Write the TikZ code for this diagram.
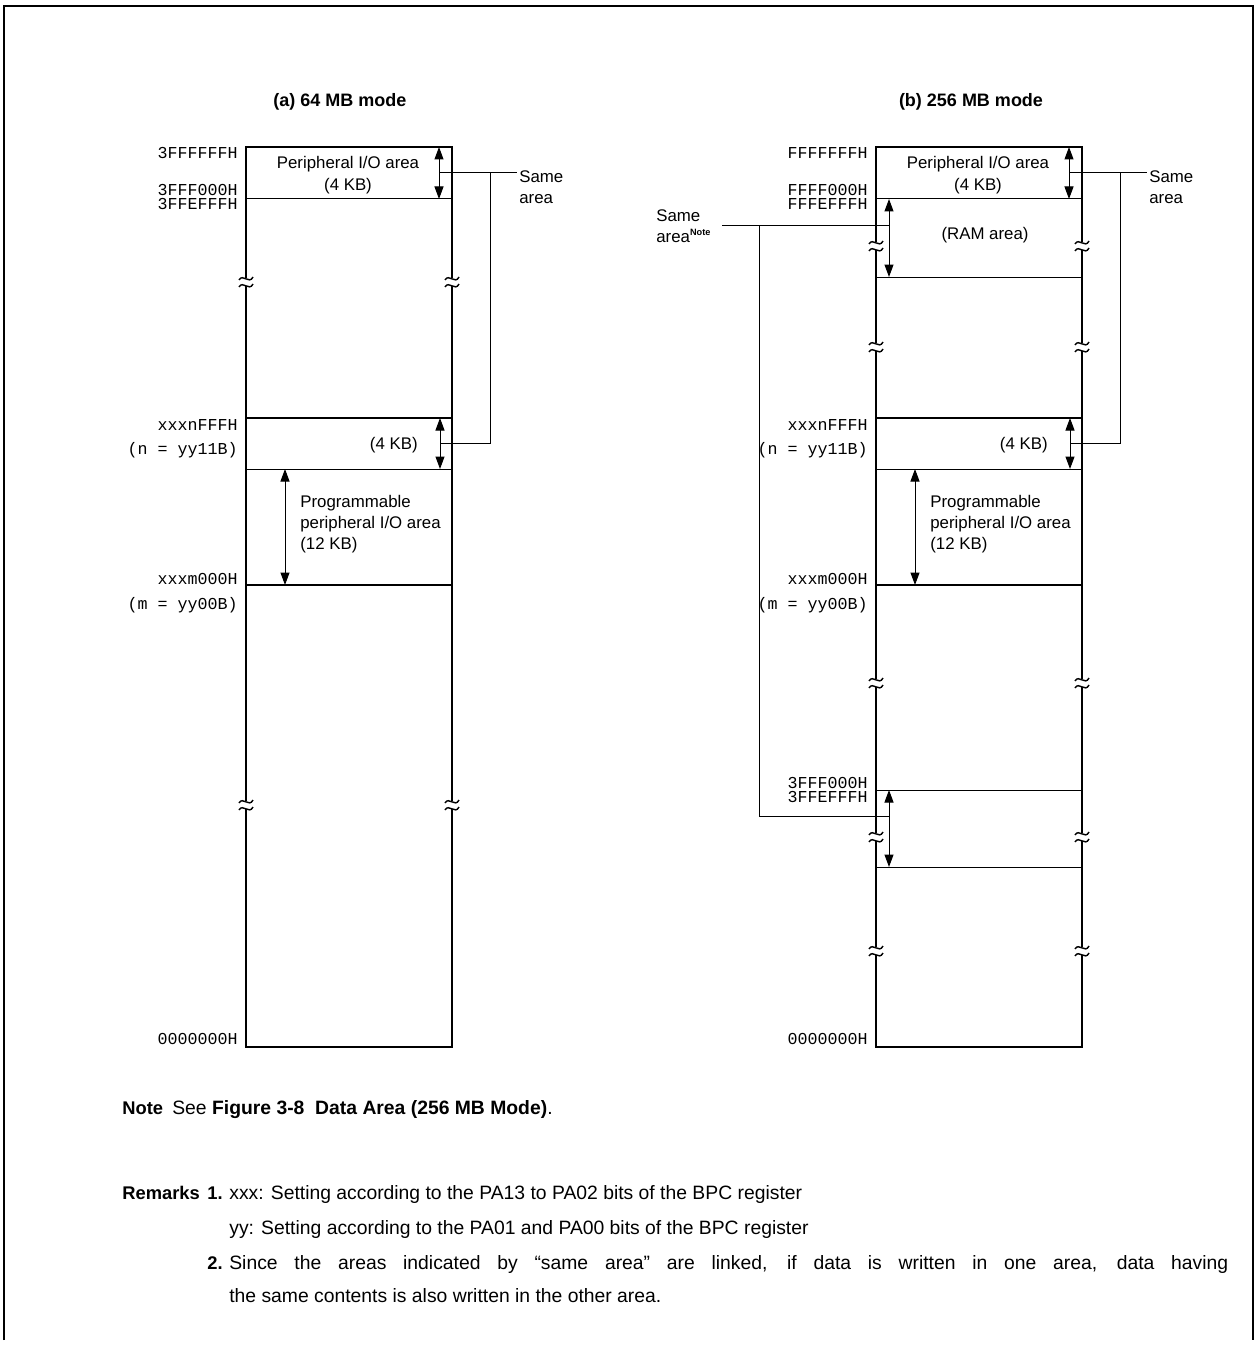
\documentclass[tikz,border=0pt]{standalone}
\usepackage{fontspec}
\setmainfont{Liberation Sans}
\newfontfamily\monofont{Liberation Mono}
\usetikzlibrary{arrows.meta}
\tikzset{
  boxline/.style={line width=1.2pt},
  thinline/.style={line width=0.6pt},
  dimarrow/.style={line width=0.6pt,{Triangle[length=7.5pt,width=5.4pt]}-{Triangle[length=7.5pt,width=5.4pt]}},
  addr/.style={font=\monofont\fontsize{10}{12}\selectfont,anchor=base east,inner sep=0pt},
  lbl/.style={font=\fontsize{10.1}{12}\selectfont,inner sep=0pt},
  ttl/.style={font=\bfseries\fontsize{10.8}{13}\selectfont,inner sep=0pt,anchor=base},
  head/.style={font=\bfseries\fontsize{11}{13}\selectfont,inner sep=0pt,anchor=base west},
  body/.style={font=\fontsize{11.6}{13}\selectfont,inner sep=0pt,anchor=base west},
}
\newcommand\brkmark[2]{%
  \begin{scope}[shift={(#1,#2)}]
    \fill[white] (-2.5,-4) rectangle (2.5,4);
    \draw[line width=0.85pt] (-7,-2) .. controls (-3,-9) and (3,3) .. (7,-5);
    \draw[line width=0.85pt] (-7,5) .. controls (-3,-2) and (3,10) .. (7,2);
  \end{scope}}
\begin{document}
\begin{tikzpicture}[x=0.6pt,y=-0.6pt]
\useasboundingbox (0,0) rectangle (1256,1368);
% outer frame
\draw[line width=0.8pt] (4,1340) -- (4,6) -- (1253,6) -- (1253,1340);

% titles
\node[ttl] (ta) at (340,107) {(a) 64 MB mode};
\node[ttl] (tb) at (971,107) {(b) 256 MB mode};

% ===== (a) =====
\draw[thinline] (246,199) -- (452,199);
\draw[thinline] (246,469) -- (452,469);
\draw[boxline] (246,418) -- (452,418);
\draw[boxline] (246,585) -- (452,585);
\draw[boxline] (246,147) rectangle (452,1047);

\coordinate (a1t) at (439,147); \coordinate (a1b) at (439,199);
\draw[dimarrow] (a1t) -- (a1b);
\coordinate (a2t) at (440,418); \coordinate (a2b) at (440,469);
\draw[dimarrow] (a2t) -- (a2b);
\coordinate (a3t) at (285,469); \coordinate (a3b) at (285,585);
\draw[dimarrow] (a3t) -- (a3b);

\coordinate (as1) at (439,173); \coordinate (as2) at (517,173);
\coordinate (asv) at (490,173); \coordinate (as3) at (490,443); \coordinate (as4) at (440,443);
\draw[thinline] (as1) -- (as2);
\draw[thinline] (asv) -- (as3) -- (as4);
\node[lbl,anchor=base west] (asame) at (519,182) {Same};
\node[lbl,anchor=base west] (aarea) at (519,203) {area};

\node[lbl,anchor=base] (aper) at (348,169) {Peripheral I/O area};
\node[lbl,anchor=base] (aper2) at (348,190) {(4 KB)};
\node[lbl,anchor=base east] (a4kb) at (418,449) {(4 KB)};
\node[lbl,anchor=base west] (ap1) at (300,507) {Programmable};
\node[lbl,anchor=base west] (ap2) at (300,528) {peripheral I/O area};
\node[lbl,anchor=base west] (ap3) at (300,549) {(12 KB)};

\node[addr] (aa1) at (238,159) {3FFFFFFH};
\node[addr] (aa2) at (238,196) {3FFF000H};
\node[addr] (aa3) at (238,210) {3FFEFFFH};
\node[addr] (aa4) at (238,430) {xxxnFFFH};
\node[addr] (aa5) at (238,454) {(n = yy11B)};
\node[addr] (aa6) at (238,584) {xxxm000H};
\node[addr] (aa7) at (238,609) {(m = yy00B)};
\node[addr] (aa8) at (238,1044) {0000000H};

\brkmark{246}{282}\brkmark{452}{282}
\brkmark{246}{805}\brkmark{452}{805}

% ===== (b) =====
\draw[thinline] (876,199) -- (1082,199);
\draw[thinline] (876,277) -- (1082,277);
\draw[thinline] (876,469) -- (1082,469);
\draw[thinline] (876,790) -- (1082,790);
\draw[thinline] (876,867) -- (1082,867);
\draw[boxline] (876,418) -- (1082,418);
\draw[boxline] (876,585) -- (1082,585);
\draw[boxline] (876,147) rectangle (1082,1047);

\coordinate (b1t) at (1069,147); \coordinate (b1b) at (1069,199);
\draw[dimarrow] (b1t) -- (b1b);
\coordinate (b2t) at (1070,418); \coordinate (b2b) at (1070,469);
\draw[dimarrow] (b2t) -- (b2b);
\coordinate (b3t) at (915,469); \coordinate (b3b) at (915,585);
\draw[dimarrow] (b3t) -- (b3b);
\coordinate (b4t) at (889,199); \coordinate (b4b) at (889,277);
\draw[dimarrow] (b4t) -- (b4b);
\coordinate (b5t) at (889,790); \coordinate (b5b) at (889,867);
\draw[dimarrow] (b5t) -- (b5b);

\coordinate (bs1) at (1069,173); \coordinate (bs2) at (1147,173);
\coordinate (bsv) at (1120,173); \coordinate (bs3) at (1120,443); \coordinate (bs4) at (1070,443);
\draw[thinline] (bs1) -- (bs2);
\draw[thinline] (bsv) -- (bs3) -- (bs4);
\node[lbl,anchor=base west] (bsame) at (1149,182) {Same};
\node[lbl,anchor=base west] (barea) at (1149,203) {area};

\coordinate (bl1) at (722,225); \coordinate (bl2) at (889,225);
\coordinate (blv) at (759,225); \coordinate (bl3) at (759,816); \coordinate (bl4) at (889,816);
\draw[thinline] (bl1) -- (bl2);
\draw[thinline] (blv) -- (bl3) -- (bl4);
\node[lbl,anchor=base west] (blsame) at (656,222) {Same};
\node[lbl,anchor=base west] (blarea) at (656,242) {area\textsuperscript{\bfseries\fontsize{5.5}{6}\selectfont Note}};

\node[lbl,anchor=base] (bper) at (978,169) {Peripheral I/O area};
\node[lbl,anchor=base] (bper2) at (978,190) {(4 KB)};
\node[lbl,anchor=base] (bram) at (985,240) {(RAM area)};
\node[lbl,anchor=base east] (b4kb) at (1048,449) {(4 KB)};
\node[lbl,anchor=base west] (bp1) at (930,507) {Programmable};
\node[lbl,anchor=base west] (bp2) at (930,528) {peripheral I/O area};
\node[lbl,anchor=base west] (bp3) at (930,549) {(12 KB)};

\node[addr] (ba1) at (868,159) {FFFFFFFH};
\node[addr] (ba2) at (868,196) {FFFF000H};
\node[addr] (ba3) at (868,210) {FFFEFFFH};
\node[addr] (ba4) at (868,430) {xxxnFFFH};
\node[addr] (ba5) at (868,454) {(n = yy11B)};
\node[addr] (ba6) at (868,584) {xxxm000H};
\node[addr] (ba7) at (868,609) {(m = yy00B)};
\node[addr] (ba8) at (868,788) {3FFF000H};
\node[addr] (ba9) at (868,802) {3FFEFFFH};
\node[addr] (ba10) at (868,1044) {0000000H};

\brkmark{876}{246}\brkmark{1082}{246}
\brkmark{876}{347}\brkmark{1082}{347}
\brkmark{876}{683}\brkmark{1082}{683}
\brkmark{876}{837}\brkmark{1082}{837}
\brkmark{876}{951}\brkmark{1082}{951}

% ===== notes =====
\node[head] (nt) at (122,1114) {Note};
\node[body] (ntx) at (172,1114) {See \textbf{Figure 3-8\ \ Data Area (256 MB Mode)}.};
\node[head] (rm) at (122,1199) {Remarks};
\node[head,anchor=base east] (r1) at (223,1199) {1.};
\node[body] (r1a) at (229,1199) {xxx: Setting according to the PA13 to PA02 bits of the BPC register};
\node[body] (r1b) at (229,1234) {yy: Setting according to the PA01 and PA00 bits of the BPC register};
\node[head,anchor=base east] (r2) at (223,1269) {2.};
\node[body] (r2a) at (229,1269) {\makebox[599.4pt][s]{Since the areas indicated by “same area” are linked, if data is written in one area, data having}};
\node[body] (r2b) at (229,1302) {the same contents is also written in the other area.};
\end{tikzpicture}
\end{document}
